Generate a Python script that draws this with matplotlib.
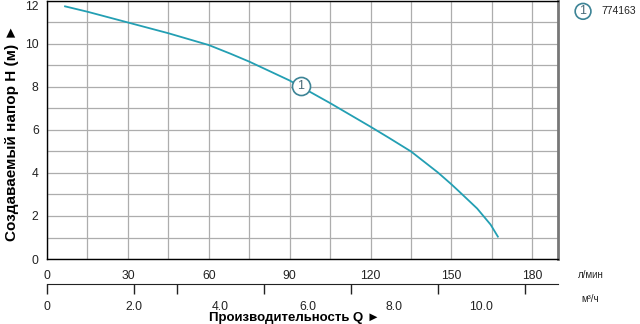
import numpy as np
import matplotlib.pyplot as plt

plt.rcParams['font.family'] = ['Liberation Sans', 'DejaVu Sans']

# кривая насоса 774163
q_lmin = [6.7, 15, 30, 45, 60, 68, 75, 90, 105, 120, 127, 135, 145, 150, 153,
          159.5, 164.5, 167.2]
h_m = [11.75, 11.5, 11.0, 10.5, 9.95, 9.55, 9.18, 8.3, 7.25, 6.15, 5.62, 5.0,
       4.02, 3.47, 3.12, 2.35, 1.6, 1.04]
marker_q, marker_h = 94.2, 8.06

x_ticks = [0, 30, 60, 90, 120, 150, 180]
y_ticks = [0, 2, 4, 6, 8, 10, 12]
m3h_labels = [0, 2, 4, 6, 8, 10]
m3h_marks = [0, 2, 3, 5, 7, 9, 11]
m3h_fmt = ['0', '2.0', '4.0', '6.0', '8.0', '10.0']

teal = '#239fb3'
dark_teal = '#3d8496'

fig = plt.figure(figsize=(6.4, 3.24), dpi=100)
ax = fig.add_axes([0.0734, 0.2006, 0.7985, 0.7964])

ax.set_xlim(0, 189.5)
ax.set_ylim(0, 12)
ax.set_xticks(x_ticks)
ax.set_yticks(y_ticks)
ax.set_xticks(np.arange(0, 190, 15), minor=True)
ax.set_yticks(np.arange(0, 13, 1), minor=True)
ax.grid(which='both', color='#adadad', linewidth=0.9)
ax.tick_params(which='both', length=0, labelsize=8.7, labelcolor='#222222')
ax.tick_params(axis='x', pad=8)
ax.tick_params(axis='y', pad=6)
for lab in ax.get_yticklabels():
    if lab.get_text() == '12':
        lab.set_va('top')

for side in ['left', 'bottom', 'top']:
    ax.spines[side].set_color('black')
    ax.spines[side].set_linewidth(1.0)
ax.spines['right'].set_color('#777777')
ax.spines['right'].set_linewidth(2.0)

ax.plot(q_lmin, h_m, color=teal, linewidth=1.3, zorder=3)
ax.plot(marker_q, marker_h, 'o', markersize=13, markerfacecolor='white',
        markeredgecolor=dark_teal, markeredgewidth=1.2, zorder=4)
ax.text(marker_q, marker_h, '1', ha='center', va='center', fontsize=9,
        color='#4a6a78', zorder=5)

fig.text(0.018, 0.59, 'Создаваемый напор H (м) ►', rotation=90, ha='center',
         va='center', fontsize=11, fontweight='bold')

# вторая шкала м³/ч: линия с засечками
ax2 = fig.add_axes([0.0734, 0.1235, 0.7985, 0.0001])
ax2.set_xlim(0, 11.77)
ax2.set_yticks([])
for side in ['left', 'right', 'top']:
    ax2.spines[side].set_visible(False)
ax2.spines['bottom'].set_color('#222222')
ax2.set_xticks(m3h_marks)
ax2.set_xticklabels([''] * len(m3h_marks))
ax2.tick_params(axis='x', length=7, width=1.0, color='#222222', direction='out')

# подписи второй шкалы
ax3 = fig.add_axes([0.0734, 0.1235, 0.7985, 0.0001])
ax3.set_xlim(0, 11.77)
ax3.set_yticks([])
ax3.patch.set_visible(False)
for side in ['left', 'right', 'top', 'bottom']:
    ax3.spines[side].set_visible(False)
ax3.set_xticks(m3h_labels)
ax3.set_xticklabels(m3h_fmt)
ax3.tick_params(axis='x', length=0, pad=12, labelsize=8.7, labelcolor='#222222')

fig.text(0.46, 0.018, 'Производительность Q ►', ha='center', va='center',
         fontsize=9.5, fontweight='bold')
fig.text(0.903, 0.151, 'л/мин', ha='left', va='center', fontsize=7,
         color='#222222')
fig.text(0.909, 0.078, 'м³/ч', ha='left', va='center', fontsize=7,
         color='#222222')

# легенда
fig.text(0.911, 0.965, '1', ha='center', va='center', fontsize=9, color='#4a6a78',
         bbox=dict(boxstyle='circle,pad=0.15', facecolor='white',
                   edgecolor=dark_teal, linewidth=1.2))
fig.text(0.939, 0.965, '774163', ha='left', va='center', fontsize=7.5,
         color='#222222')

fig.savefig('out.png', dpi=100)
